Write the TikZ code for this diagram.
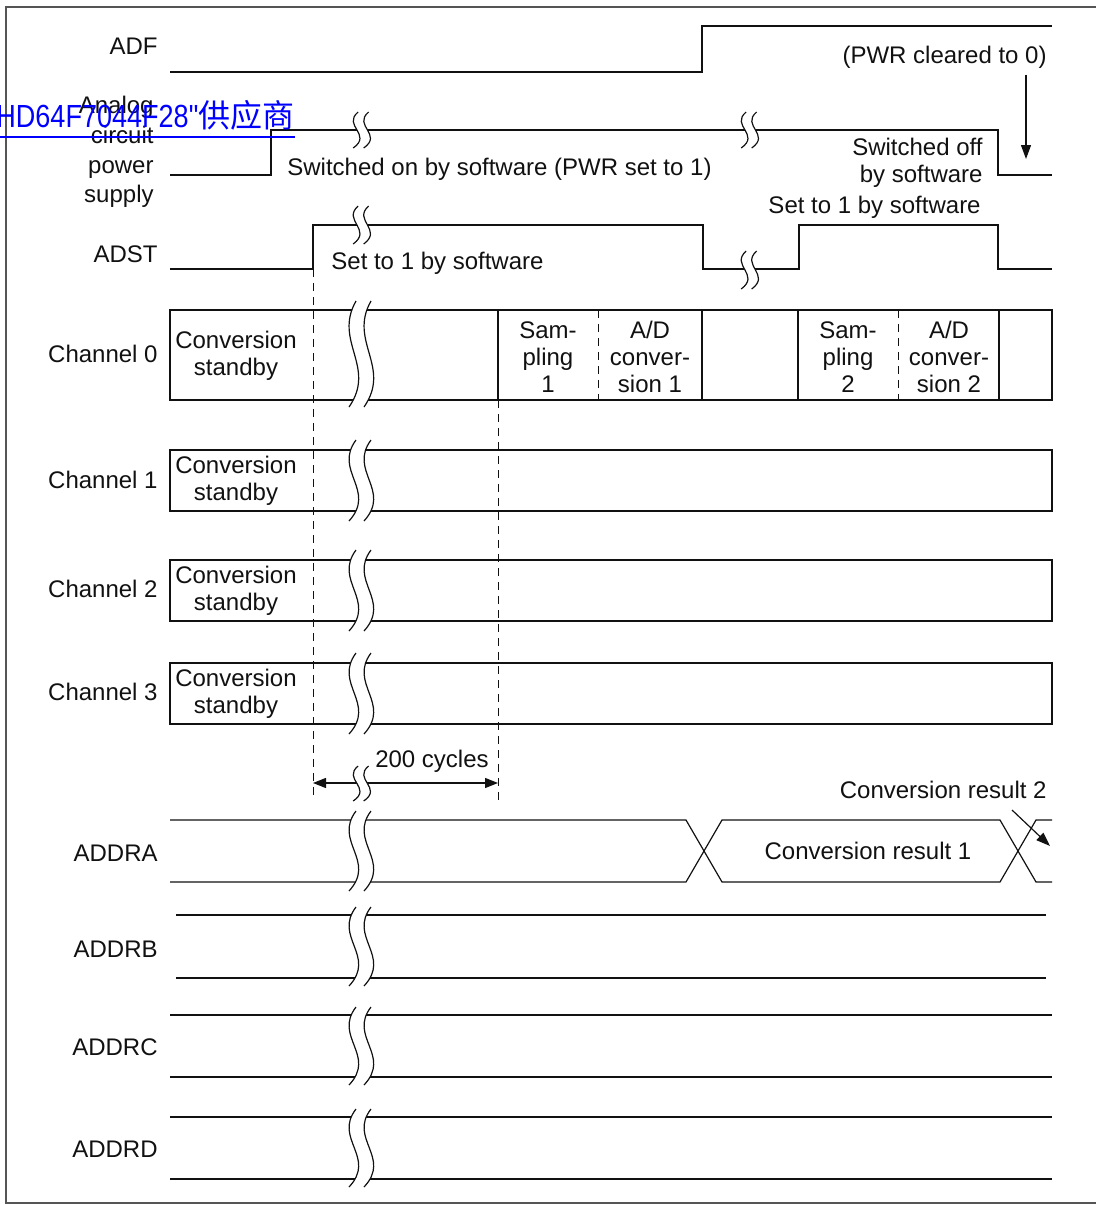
\documentclass[tikz,border=0pt]{standalone}
\usepackage{fontspec}
\setmainfont{Liberation Sans}
\newfontfamily\wmfont[FakeStretch=0.845]{Liberation Sans}
\newfontfamily\cjk{Noto Sans CJK SC}
\usetikzlibrary{arrows.meta}
\definecolor{Ink}{HTML}{111111}
\definecolor{FrameGray}{HTML}{555555}
\definecolor{LinkBlue}{HTML}{0000FF}

\newcommand{\brk}[4]{%
  \fill[white] ({#1+0.3*#4},#2) .. controls ({#1-2*#4},{#2+0.38*(#3-#2)}) and ({#1+2.4*#4},{#2+0.62*(#3-#2)}) .. ({#1-0.4*#4},#3)
    -- ({#1+1.1*#4},#3) .. controls ({#1+3.9*#4},{#2+0.62*(#3-#2)}) and ({#1-0.5*#4},{#2+0.38*(#3-#2)}) .. ({#1+1.8*#4},#2) -- cycle;
  \foreach \s in {0,1.5}
    \draw[sig] ({#1+(0.3+\s)*#4},#2) .. controls ({#1+(\s-2)*#4},{#2+0.38*(#3-#2)}) and ({#1+(2.4+\s)*#4},{#2+0.62*(#3-#2)}) .. ({#1+(\s-0.4)*#4},#3);%
}

\begin{document}
\begin{tikzpicture}[
  x=0.5pt, y=-0.5pt,
  sig/.style={draw=Ink, line width=0.6pt},
  guide/.style={draw=Ink, line width=0.5pt, dash pattern=on 4pt off 3pt},
  lbl/.style={anchor=east, inner sep=0pt, text=Ink, font=\fontsize{12}{14.8}\selectfont, align=right},
  note/.style={inner sep=0pt, text=Ink, font=\fontsize{12}{13.5}\selectfont, align=right},
  cell/.style={text=Ink, font=\fontsize{12}{13.4}\selectfont, align=center},
  arrow/.style={sig, -{Triangle[length=7pt,width=5pt]}},
  dim/.style={sig, {Triangle[length=6.5pt,width=5pt]}-{Triangle[length=6.5pt,width=5pt]}}
]
\useasboundingbox (0,0) rectangle (1096,1205);
\draw[FrameGray, line width=0.6pt] (6,7) rectangle (1110,1203);

\node[lbl] (adf) at (158,46) {ADF};
\node[lbl] (pwr) at (154,152) {Analog\\circuit\\power\\supply};
\node[lbl] (adst) at (158,254) {ADST};
\node[lbl] (ch0) at (158,354) {Channel 0};
\node[lbl] (ch1) at (158,480) {Channel 1};
\node[lbl] (ch2) at (158,589) {Channel 2};
\node[lbl] (ch3) at (158,692) {Channel 3};
\node[lbl] (addra) at (158,853) {ADDRA};
\node[lbl] (addrb) at (158,949) {ADDRB};
\node[lbl] (addrc) at (158,1047) {ADDRC};
\node[lbl] (addrd) at (158,1149) {ADDRD};

\draw[sig] (170,72) -- (702,72) -- (702,26) -- (1052,26);
\draw[sig] (170,175) -- (271,175) -- (271,130) -- (998,130) -- (998,175) -- (1052,175);
\draw[sig] (170,269) -- (313,269) -- (313,225) -- (703,225) -- (703,269) -- (799,269) -- (799,225) -- (998,225) -- (998,269) -- (1052,269);
\brk{356}{112}{148}{7}
\brk{744}{112}{148}{7}
\brk{356}{206}{244}{7}
\brk{744}{251}{289}{7}

\node[note, anchor=east] (pwrclr) at (1047,57) {(PWR cleared to 0)};
\coordinate (pwrtip) at (1026,159);
\draw[arrow, shorten <=3pt] (pwrclr.south -| pwrtip) -- (pwrtip);
\node[note, anchor=west] (pwron) at (287,169) {Switched on by software (PWR set to 1)};
\node[note, anchor=east] (pwroff) at (983,163) {Switched off\\by software};
\node[note, anchor=west] (adston) at (331,263) {Set to 1 by software};
\node[note, anchor=east] (adston2) at (981,207) {Set to 1 by software};

\draw[guide] (313,269) -- (313,800);
\draw[guide] (498,400) -- (498,805);

\draw[sig] (170,310) rectangle (1052,400);
\foreach \x in {498,702,798,999}
  \draw[sig] (\x,310) -- (\x,400);
\foreach \x in {598,898}
  \draw[guide] (\x,310) -- (\x,400);
\foreach \y/\h in {450/511,560/621,663/724}
  \draw[sig] (170,\y) rectangle (1052,\h);
\brk{353}{301}{407}{10}
\brk{353}{440}{521}{10}
\brk{353}{550}{631}{10}
\brk{353}{653}{734}{10}

\node[cell] (stby0) at (236,356) {Conversion\\standby};
\node[cell] (stby1) at (236,481) {Conversion\\standby};
\node[cell] (stby2) at (236,591) {Conversion\\standby};
\node[cell] (stby3) at (236,694) {Conversion\\standby};
\node[cell] (samp1) at (548,357) {Sam-\\pling\\1};
\node[cell] (conv1) at (650,357) {A/D\\conver-\\sion 1};
\node[cell] (samp2) at (848,357) {Sam-\\pling\\2};
\node[cell] (conv2) at (949,357) {A/D\\conver-\\sion 2};

\coordinate (cyc0) at (313,783);
\coordinate (cyc1) at (498,783);
\draw[dim] (cyc0) -- (cyc1);
\brk{356}{766}{801}{7}
\node[note] (cycles) at (432,761) {200 cycles};

\draw[sig] (170,820) -- (686,820) -- (722,882) -- (1000,882) -- (1036,820) -- (1052,820);
\draw[sig] (170,882) -- (686,882) -- (722,820) -- (1000,820) -- (1036,882) -- (1052,882);
\brk{353}{811}{891}{10}
\node[note] (res1) at (868,851) {Conversion result 1};
\node[note, anchor=east] (res2) at (1047,790) {Conversion result 2};
\coordinate (res2from) at (1012,810);
\coordinate (res2tip) at (1050,846);
\draw[arrow] (res2from) -- (res2tip);

\draw[sig] (176,915) -- (1046,915) (176,978) -- (1046,978);
\brk{353}{907}{986}{10}
\draw[sig] (170,1015) -- (1052,1015) (170,1077) -- (1052,1077);
\brk{353}{1007}{1085}{10}
\draw[sig] (170,1117) -- (1052,1117) (170,1179) -- (1052,1179);
\brk{353}{1109}{1187}{10}

\node[anchor=base west, inner sep=0pt, text=LinkBlue] (wm) at (-4,127) {\fontsize{16}{16}\selectfont\wmfont HD64F7044F28"\cjk 供应商};
\draw[LinkBlue, line width=0.7pt] ([yshift=-5pt]wm.base west) -- ([yshift=-5pt]wm.base east);
\end{tikzpicture}
\end{document}
